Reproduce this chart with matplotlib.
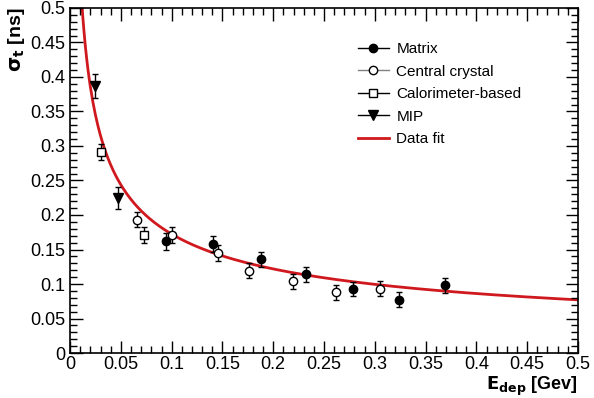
import numpy as np
import matplotlib
matplotlib.use("Agg")
import matplotlib.pyplot as plt
from matplotlib.lines import Line2D
from matplotlib.ticker import MultipleLocator, FuncFormatter

plt.rcParams['font.family'] = ['Liberation Sans', 'DejaVu Sans']

# data
matrix_e = [0.0945, 0.141, 0.188, 0.232, 0.279, 0.324, 0.369]
matrix_s = [0.162, 0.158, 0.136, 0.114, 0.093, 0.077, 0.098]
matrix_err = [0.012, 0.011, 0.011, 0.011, 0.010, 0.011, 0.011]

central_e = [0.066, 0.100, 0.146, 0.176, 0.219, 0.262, 0.305]
central_s = [0.193, 0.171, 0.145, 0.119, 0.104, 0.088, 0.093]
central_err = [0.011, 0.011, 0.011, 0.011, 0.011, 0.011, 0.011]

calo_e = [0.0305, 0.073]
calo_s = [0.291, 0.171]
calo_err = [0.012, 0.011]

mip_e = [0.0246, 0.047]
mip_s = [0.387, 0.225]
mip_err = [0.017, 0.016]

# fit: sigma = a / sqrt(E)
fit_a = 0.0545

fig = plt.figure(figsize=(5.94, 3.98), dpi=100)
ax = fig.add_axes([0.118, 0.113, 0.855, 0.867])

ebar = dict(capsize=2.5, elinewidth=1, capthick=1, ecolor='black', linestyle='none')
ax.errorbar(matrix_e, matrix_s, yerr=matrix_err, fmt='o', color='black', ms=6, **ebar)
ax.errorbar(central_e, central_s, yerr=central_err, fmt='o', mfc='white', mec='black',
            color='black', ms=6, **ebar)
ax.errorbar(calo_e, calo_s, yerr=calo_err, fmt='s', mfc='white', mec='black',
            color='black', ms=6, **ebar)
ax.errorbar(mip_e, mip_s, yerr=mip_err, fmt='v', color='black', ms=7, **ebar)

xf = np.linspace(0.005, 0.5, 400)
ax.plot(xf, fit_a / np.sqrt(xf), color='#d0191e', lw=2, zorder=1)

ax.set_xlim(0, 0.5)
ax.set_ylim(0, 0.5)

fmt = FuncFormatter(lambda v, p: ('%g' % round(v, 3)))
for axis in (ax.xaxis, ax.yaxis):
    axis.set_major_locator(MultipleLocator(0.05))
    axis.set_minor_locator(MultipleLocator(0.01))
    axis.set_major_formatter(fmt)
ax.tick_params(which='both', direction='in', top=True, right=True, labelsize=13, width=1)
ax.tick_params(which='major', length=9)
ax.tick_params(which='minor', length=5)
ax.tick_params(axis='x', pad=2)
for s in ax.spines.values():
    s.set_linewidth(1.2)

ax.set_xlabel(r'$\mathbf{E_{dep}}$ [Gev]', fontsize=13, fontweight='bold', ha='right', va='top')
ax.xaxis.set_label_coords(1.0, -0.063)
ax.set_ylabel(r'$\mathbf{\sigma_{t}}$ [ns]', fontsize=14, fontweight='bold', loc='top', labelpad=2)

handles = [
    Line2D([], [], color='black', marker='o', ms=6, lw=1),
    Line2D([], [], color='gray', marker='o', mfc='white', mec='black', ms=6, lw=1),
    Line2D([], [], color='black', marker='s', mfc='white', mec='black', ms=6, lw=1),
    Line2D([], [], color='black', marker='v', ms=7, lw=1),
    Line2D([], [], color='#d0191e', lw=2),
]
labels = ['Matrix', 'Central crystal', 'Calorimeter-based', 'MIP', 'Data fit']
ax.legend(handles, labels, loc='upper left', bbox_to_anchor=(0.54, 0.94), frameon=False,
          fontsize=11, handlelength=2.0, handletextpad=0.5, labelspacing=0.55, numpoints=1)

fig.savefig('out.png', dpi=100)
